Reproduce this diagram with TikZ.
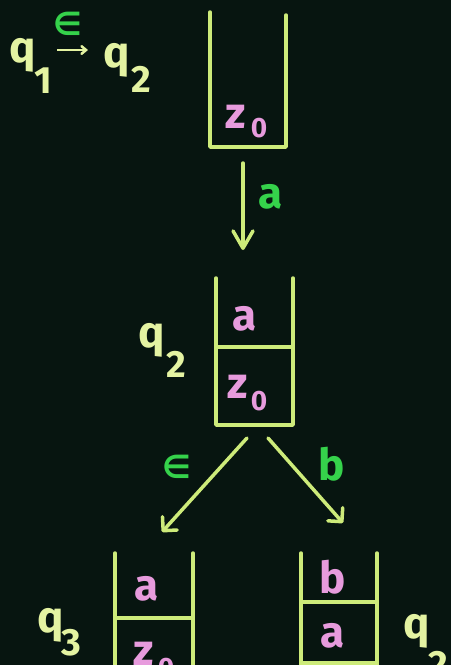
\documentclass[tikz,border=0pt]{standalone}
\usepackage{fontspec}
\setmainfont{Fira Sans}
\newfontfamily\dejavu{DejaVu Sans}
\usetikzlibrary{arrows.meta}
\definecolor{bgc}{HTML}{071510}
\definecolor{linec}{HTML}{CDEB7A}
\definecolor{qc}{HTML}{E4F3A2}
\definecolor{pinkc}{HTML}{E79BDD}
\definecolor{greenc}{HTML}{35D24B}
\tikzset{
  glyph/.style={inner sep=0pt, anchor=base, font=\bfseries\fontsize{44}{44}\selectfont},
  qlab/.style={glyph, text=qc},
  qsub/.style={glyph, text=qc, font=\bfseries\fontsize{38}{38}\selectfont},
  stk/.style={glyph, text=pinkc},
  zsub/.style={glyph, text=pinkc, font=\bfseries\fontsize{28}{28}\selectfont},
  trans/.style={glyph, text=greenc},
  eps/.style={inner sep=0pt, anchor=base, text=greenc, font=\dejavu\bfseries\fontsize{32}{32}\selectfont},
  wall/.style={draw=linec, line width=3.5pt, line cap=round, line join=round},
  move/.style={draw=linec, line width=3.5pt, line cap=round},
  downtip/.style={-{Straight Barb[angle=60:20pt, line cap=round, line join=round]}},
  diagtip/.style={-{Straight Barb[angle=90:14pt, line cap=round, line join=round]}},
}
\begin{document}
\begin{tikzpicture}[x=1pt, y=-1pt]
\useasboundingbox (0,0) rectangle (451,665);
\fill[bgc] (0,0) rectangle (451,665);
\clip (0,0) rectangle (451,665);

% top-left transition q1 -eps-> q2
\node[qlab] (tq1) at (23,62) {q};
\node[qsub] (tq1s) at (43,93) {1};
\node[eps] (teps) at (68,35) {∈};
\coordinate (ta) at (57,50);
\coordinate (tb) at (88,50);
\draw[draw=qc, line width=2.5pt, -{Straight Barb[angle=80:6pt, line cap=round]}] (ta) -- (tb);
\node[qlab] (tq2) at (117,67) {q};
\node[qsub] (tq2s) at (141,92) {2};

% stack 1
\draw[wall] (210,12) -- (210,147) -- (286,147) -- (286,15);
\node[stk] (s1z) at (236,128) {z};
\node[zsub] (s1zs) at (259,137) {0};
\coordinate (s1out) at (243,163);

% down arrow
\coordinate (s2in) at (243,250);
\draw[move, downtip] (s1out) -- (s2in);
\node[trans] (la) at (271,208) {a};

% stack 2
\draw[wall] (216,278) -- (216,425) -- (293,425) -- (293,278);
\draw[wall] (216,347) -- (293,347);
\node[stk] (s2a) at (245,330) {a};
\node[stk] (s2z) at (238,398) {z};
\node[zsub] (s2zs) at (259,410) {0};
\node[qlab] (s2q) at (152,347) {q};
\node[qsub] (s2qs) at (176,377) {2};

% diagonal arrows
\coordinate (s2l) at (247,438);
\coordinate (s3in) at (162,532);
\coordinate (s2r) at (268,438);
\coordinate (s4in) at (343,523);
\draw[move, diagtip] (s2l) -- (s3in);
\draw[move, diagtip] (s2r) -- (s4in);
\node[eps] (leps) at (177,478) {∈};
\node[trans] (lb) at (332,480) {b};

% stack 3
\draw[wall] (115,553) -- (115,680);
\draw[wall] (193,553) -- (193,680);
\draw[wall] (115,618) -- (193,618);
\node[stk] (s3a) at (147,600) {a};
\node[stk] (s3z) at (144,665) {z};
\node[zsub] (s3zs) at (166,677) {0};
\node[qlab] (s3q) at (51,632) {q};
\node[qsub] (s3qs) at (71,655) {3};

% stack 4
\draw[wall] (301,553) -- (301,680);
\draw[wall] (377,553) -- (377,680);
\draw[wall] (301,602) -- (377,602);
\draw[wall] (301,663) -- (377,663);
\node[stk] (s4b) at (333,593) {b};
\node[stk] (s4a) at (333,647) {a};
\node[qlab] (s4q) at (417,638) {q};
\node[qsub] (s4qs) at (438,677) {2};
\end{tikzpicture}
\end{document}
